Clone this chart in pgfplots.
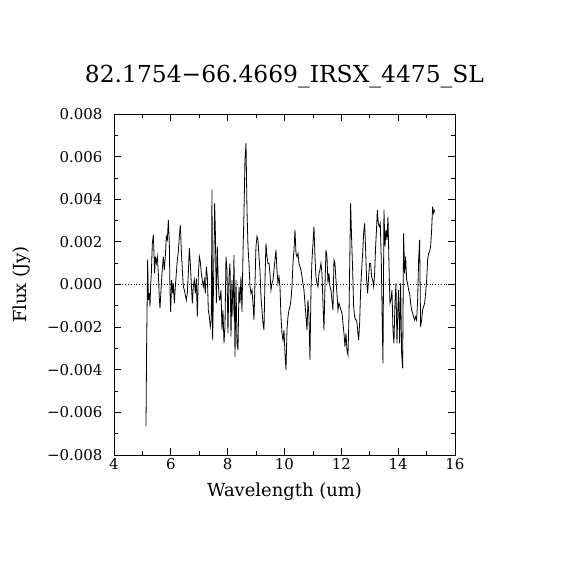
\documentclass[border=0pt]{standalone}
\usepackage{fontspec}
\setmainfont{DejaVu Serif}
\usepackage{pgfplots}
\pgfplotsset{compat=1.18}
\begin{document}
\begin{tikzpicture}
\useasboundingbox (-114bp,-115bp) rectangle (456bp,455bp);
\begin{axis}[
  at={(0,0)}, anchor=south west,
  width=341bp, height=341bp, scale only axis,
  xmin=4, xmax=16, ymin=-0.008, ymax=0.008,
  xtick={4,6,8,10,12,14,16},
  xticklabels={4,6,8,10,12,14,16},
  ytick={-0.008,-0.006,-0.004,-0.002,0,0.002,0.004,0.006,0.008},
  yticklabels={−0.008,−0.006,−0.004,−0.002,0.000,0.002,0.004,0.006,0.008},
  minor x tick num=1, minor y tick num=1,
  tick align=inside,
  major tick length=7bp, minor tick length=4bp,
  xtick pos=both, ytick pos=both,
  scaled y ticks=false,
  axis line style={line width=0.8bp},
  every tick/.style={line width=0.8bp, black},
  tick label style={font=\fontsize{15}{18}\selectfont},
  yticklabel style={xshift=-8bp},
  label style={font=\fontsize{18}{21}\selectfont},
  xlabel={Wavelength (um)},
  ylabel={Flux (Jy)},
  xlabel style={at={(axis description cs:0.5,-0.1085)}, anchor=center},
  ylabel style={at={(axis description cs:-0.27,0.5)}, anchor=center, rotate=0},
  title={82.1754−66.4669\_IRSX\_4475\_SL},
  title style={at={(axis description cs:0.5,1.091)}, anchor=center, font=\fontsize{23.5}{28}\selectfont},
]
\addplot[black, dotted, line width=0.8bp] coordinates {(4,0) (16,0)};
\addplot[black, line width=0.8bp] table {
x y
5.126 -0.00664
5.149 -0.00276
5.185 0.00118
5.208 -0.00073
5.243 -0.00041
5.267 -0.00104
5.290 -0.00002
5.314 0.00052
5.349 0.00193
5.384 0.00232
5.407 0.00146
5.431 0.00052
5.454 0.00131
5.490 0.00099
5.525 0.00131
5.560 0.00052
5.595 -0.00065
5.619 -0.00112
5.654 -0.00026
5.689 0.00052
5.736 0.00131
5.771 0.00068
5.806 0.00131
5.841 0.00225
5.877 0.00209
5.912 0.00303
5.947 0.00193
5.970 -0.00026
5.994 -0.00128
6.029 0.00021
6.064 -0.00041
6.088 0.00005
6.123 -0.00088
6.158 -0.00010
6.193 0.00052
6.228 0.00115
6.264 0.00154
6.299 0.00225
6.334 0.00279
6.369 0.00162
6.404 0.00068
6.440 -0.00010
6.475 -0.00026
6.510 -0.00049
6.545 -0.00073
6.580 -0.00041
6.615 0.00052
6.651 0.00170
6.686 0.00099
6.721 0.00005
6.756 -0.00088
6.791 -0.00010
6.827 0.00021
6.862 -0.00041
6.897 0.00029
6.932 -0.00151
6.967 0.00037
7.003 0.00131
7.038 0.00107
7.073 0.00052
7.108 0.00021
7.143 -0.00010
7.178 0.00021
7.214 -0.00041
7.249 0.00084
7.284 0.00037
7.319 -0.00120
7.354 -0.00151
7.390 -0.00198
7.425 -0.00167
7.448 0.00444
7.472 -0.00261
7.507 0.00037
7.542 0.00381
7.566 0.00256
7.601 -0.00088
7.636 0.00178
7.671 0.00005
7.706 -0.00073
7.730 -0.00073
7.765 -0.00026
7.800 -0.00214
7.835 -0.00120
7.871 -0.00276
7.906 -0.00198
7.941 0.00131
7.976 0.00068
8.011 -0.00229
8.047 0.00037
8.082 0.00099
8.117 -0.00245
8.152 0.00021
8.187 -0.00151
8.222 0.00138
8.258 -0.00339
8.293 0.00021
8.328 -0.00276
8.363 -0.00308
8.398 -0.00010
8.434 -0.00088
8.469 0.00037
8.504 -0.00128
8.539 0.00146
8.574 0.00334
8.609 0.00585
8.645 0.00663
8.680 0.00350
8.715 0.00178
8.750 0.00099
8.785 -0.00010
8.821 -0.00041
8.856 -0.00026
8.891 -0.00088
8.926 -0.00167
8.961 0.00005
8.996 0.00178
9.032 0.00225
9.067 0.00209
9.102 0.00131
9.137 0.00068
9.172 -0.00057
9.208 -0.00120
9.243 -0.00182
9.278 -0.00214
9.313 0.00021
9.348 0.00193
9.383 0.00131
9.419 0.00099
9.454 0.00099
9.489 0.00052
9.524 -0.00026
9.559 0.00005
9.595 0.00021
9.630 0.00068
9.665 0.00115
9.700 0.00162
9.735 0.00068
9.770 0.00005
9.806 0.00037
9.841 -0.00010
9.876 -0.00151
9.911 -0.00229
9.946 -0.00261
9.982 -0.00214
10.017 -0.00323
10.052 -0.00401
10.087 -0.00214
10.122 -0.00151
10.157 -0.00120
10.193 -0.00104
10.228 -0.00073
10.263 -0.00010
10.298 0.00099
10.333 0.00162
10.369 0.00256
10.404 0.00146
10.439 0.00131
10.474 0.00146
10.509 0.00099
10.545 0.00084
10.580 0.00068
10.615 0.00037
10.650 0.00005
10.685 -0.00026
10.720 -0.00088
10.756 -0.00151
10.791 -0.00214
10.826 -0.00073
10.861 -0.00151
10.896 -0.00354
10.932 -0.00026
10.967 0.00115
11.002 0.00193
11.037 0.00272
11.072 0.00131
11.107 0.00037
11.143 0.00005
11.178 -0.00010
11.213 0.00052
11.248 0.00068
11.283 0.00099
11.319 0.00052
11.354 -0.00088
11.389 -0.00214
11.424 -0.00010
11.459 0.00162
11.495 0.00131
11.530 0.00005
11.565 0.00052
11.600 -0.00010
11.635 -0.00026
11.670 -0.00073
11.706 -0.00120
11.741 0.00115
11.776 0.00099
11.811 0.00021
11.846 -0.00041
11.882 -0.00120
11.917 -0.00088
11.952 -0.00104
11.987 -0.00120
12.023 -0.00135
12.058 -0.00182
12.093 -0.00229
12.128 -0.00292
12.163 -0.00229
12.198 -0.00308
12.234 -0.00331
12.269 -0.00151
12.304 0.00178
12.327 0.00381
12.363 0.00209
12.398 0.00068
12.433 -0.00104
12.468 -0.00151
12.503 -0.00167
12.539 -0.00167
12.574 -0.00214
12.609 -0.00261
12.644 -0.00182
12.679 -0.00026
12.714 0.00068
12.750 0.00146
12.785 0.00240
12.820 0.00287
12.855 0.00162
12.890 0.00021
12.926 -0.00041
12.961 0.00037
12.996 0.00099
13.031 0.00099
13.066 0.00037
13.102 0.00021
13.137 -0.00010
13.172 0.00052
13.207 0.00178
13.242 0.00271
13.266 0.00350
13.301 0.00287
13.336 0.00271
13.371 0.00287
13.406 0.00115
13.442 -0.00198
13.465 -0.00370
13.500 0.00350
13.535 0.00178
13.571 0.00256
13.606 0.00209
13.641 0.00318
13.676 0.00099
13.711 -0.00088
13.746 -0.00073
13.782 -0.00026
13.817 -0.00214
13.852 -0.00276
13.887 -0.00088
13.922 0.00005
13.958 -0.00276
13.993 -0.00104
14.016 -0.00026
14.051 -0.00276
14.087 0.00005
14.122 -0.00323
14.157 -0.00393
14.192 0.00240
14.227 0.00052
14.263 0.00131
14.298 0.00021
14.333 0.00005
14.368 -0.00026
14.403 -0.00041
14.439 -0.00088
14.474 -0.00120
14.509 -0.00135
14.544 -0.00151
14.579 -0.00167
14.614 -0.00151
14.650 -0.00167
14.685 -0.00073
14.720 0.00115
14.755 0.00209
14.790 -0.00198
14.826 -0.00167
14.861 -0.00120
14.896 -0.00104
14.931 -0.00088
14.966 -0.00041
15.002 0.00021
15.037 0.00115
15.072 0.00146
15.107 0.00154
15.142 0.00178
15.178 0.00256
15.213 0.00365
15.248 0.00334
15.283 0.00350
};
\end{axis}
\end{tikzpicture}
\end{document}
